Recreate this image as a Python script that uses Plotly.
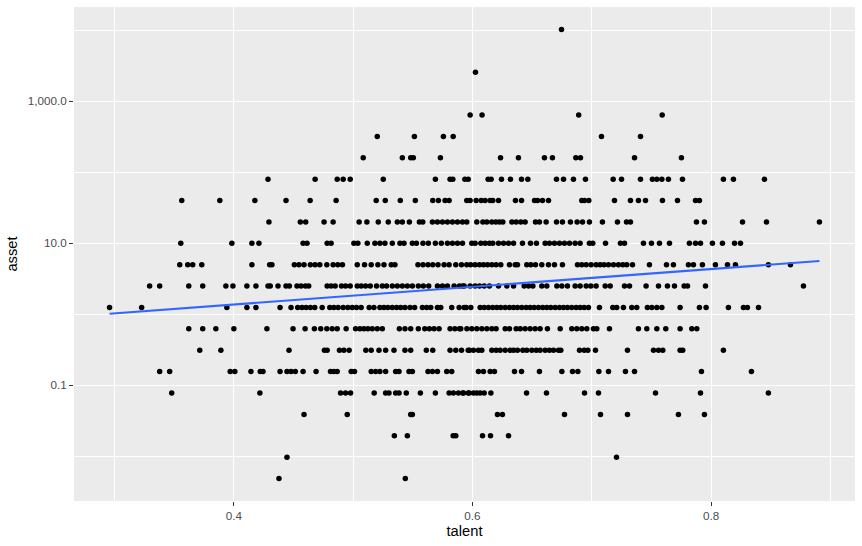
import plotly.graph_objects as go

# asset levels (10 * 2^k) and talent values observed at each level
asset_levels = [10240, 2560, 640, 320, 160, 80, 40, 20, 10, 5, 2.5, 1.25,
                0.625, 0.3125, 0.15625, 0.078125, 0.0390625, 0.01953125,
                0.009765625, 0.0048828125]

talent_10240 = [0.6746]
talent_2560 = [0.6025]
talent_640 = [0.598, 0.608, 0.689, 0.759]
talent_320 = [0.5202, 0.5513, 0.5756, 0.5838, 0.7081, 0.7408]
talent_160 = [0.5084, 0.5412, 0.5482, 0.5504, 0.5731, 0.6235, 0.6385, 0.6603,
              0.667, 0.6866, 0.6905, 0.7358, 0.7751]
talent_80 = [0.4286, 0.4681, 0.4866, 0.4916, 0.4975, 0.5252, 0.5689, 0.5812,
             0.5835, 0.5936, 0.5964, 0.6131, 0.6156, 0.6243, 0.6318, 0.6411,
             0.6464, 0.6704, 0.6763, 0.6846, 0.6947, 0.7179, 0.7249, 0.7408,
             0.7508, 0.7545, 0.7587, 0.7642, 0.776, 0.8103, 0.8187, 0.8447]
talent_40 = [0.3563, 0.3882, 0.4176, 0.4437, 0.4639, 0.4857, 0.5193, 0.5269,
             0.5395, 0.5521, 0.5667, 0.5714, 0.577, 0.5804, 0.5952, 0.598,
             0.6031, 0.6073, 0.6106, 0.6148, 0.617, 0.6218, 0.636, 0.6411,
             0.652, 0.6545, 0.6587, 0.6637, 0.6916, 0.6939, 0.6975, 0.719,
             0.7324, 0.7391, 0.745, 0.7592, 0.7718, 0.7869, 0.7902]
talent_20 = [0.4294, 0.4557, 0.4602, 0.4756, 0.4832, 0.505, 0.5115, 0.521,
             0.5294, 0.537, 0.5412, 0.5471, 0.5555, 0.5583, 0.5664, 0.5706,
             0.5748, 0.579, 0.5832, 0.5874, 0.5916, 0.5952, 0.6036, 0.6087,
             0.612, 0.6162, 0.6196, 0.6226, 0.6254, 0.633, 0.6366, 0.6405,
             0.6441, 0.6528, 0.6561, 0.6617, 0.6704, 0.6754, 0.6821, 0.6877,
             0.6922, 0.698, 0.7089, 0.7215, 0.7291, 0.7324, 0.7877, 0.7944,
             0.8263, 0.8464, 0.8908]
talent_10 = [0.3555, 0.3983, 0.4151, 0.421, 0.458, 0.4613, 0.4782, 0.4815,
             0.5006, 0.5039, 0.5118, 0.5182, 0.5224, 0.5266, 0.5328, 0.5392,
             0.5426, 0.5496, 0.553, 0.5585, 0.563, 0.5689, 0.5739, 0.579,
             0.5832, 0.5874, 0.5916, 0.5994, 0.6022, 0.607, 0.6106, 0.6142,
             0.617, 0.6218, 0.626, 0.6302, 0.6344, 0.6419, 0.6486, 0.6536,
             0.6609, 0.6645, 0.6687, 0.6729, 0.6771, 0.6813, 0.686, 0.6902,
             0.698, 0.7008, 0.7115, 0.724, 0.7274, 0.7433, 0.75, 0.7567,
             0.7651, 0.7818, 0.7869, 0.7911, 0.8011, 0.8095, 0.8196, 0.8246]
talent_5 = [0.3546, 0.3613, 0.3655, 0.3731, 0.4151, 0.43, 0.4319, 0.4507,
            0.4546, 0.4588, 0.4641, 0.4681, 0.472, 0.4779, 0.4832, 0.4871,
            0.491, 0.5034, 0.5095, 0.5151, 0.5207, 0.5258, 0.5319, 0.535,
            0.5543, 0.5585, 0.5627, 0.5667, 0.5711, 0.5762, 0.5804, 0.586,
            0.5908, 0.5952, 0.5985, 0.6022, 0.6059, 0.6092, 0.6126, 0.6162,
            0.6198, 0.6237, 0.631, 0.6358, 0.6377, 0.6455, 0.6489, 0.6528,
            0.6581, 0.6637, 0.6687, 0.6754, 0.688, 0.6916, 0.6953, 0.6994,
            0.7036, 0.707, 0.7103, 0.714, 0.7182, 0.7223, 0.726, 0.7293,
            0.7341, 0.7483, 0.7626, 0.7684, 0.781, 0.7852, 0.7927, 0.8036,
            0.8137, 0.8204, 0.848, 0.8665]
talent_2_5 = [0.3294, 0.3378, 0.3622, 0.3739, 0.3933, 0.3992, 0.4109, 0.4185,
              0.4286, 0.4305, 0.437, 0.4437, 0.4465, 0.4529, 0.4563, 0.46,
              0.4627, 0.4782, 0.4815, 0.4849, 0.4902, 0.4936, 0.4975, 0.5034,
              0.5067, 0.5104, 0.5143, 0.5196, 0.5244, 0.528, 0.5328, 0.537,
              0.5412, 0.5454, 0.5496, 0.5546, 0.5588, 0.5633, 0.5706, 0.5748,
              0.579, 0.5846, 0.5891, 0.593, 0.5919, 0.598, 0.6022, 0.6059,
              0.6098, 0.6142, 0.6218, 0.6288, 0.6344, 0.6433, 0.647, 0.6506,
              0.6581, 0.6623, 0.6707, 0.6749, 0.6796, 0.686, 0.6902, 0.6953,
              0.6992, 0.7036, 0.7112, 0.7154, 0.7274, 0.7316, 0.7455, 0.7559,
              0.7634, 0.7693, 0.7774, 0.7802, 0.7953, 0.8774]
talent_1_25 = [0.2958, 0.3227, 0.3941, 0.4109, 0.4185, 0.4387, 0.4479, 0.4535,
               0.4571, 0.4605, 0.4641, 0.4678, 0.474, 0.4804, 0.4838, 0.4874,
               0.4916, 0.4955, 0.4992, 0.5028, 0.5067, 0.5134, 0.5174, 0.5224,
               0.5258, 0.5291, 0.5328, 0.5364, 0.5398, 0.5434, 0.5476, 0.5515,
               0.558, 0.5616, 0.565, 0.5706, 0.5734, 0.5826, 0.5888, 0.593,
               0.5947, 0.5986, 0.6064, 0.6098, 0.6134, 0.617, 0.6204, 0.6237,
               0.6274, 0.631, 0.6344, 0.6377, 0.6413, 0.645, 0.6483, 0.6517,
               0.6553, 0.6589, 0.6623, 0.6656, 0.6693, 0.6729, 0.6763, 0.6796,
               0.6832, 0.6869, 0.6902, 0.6936, 0.6972, 0.7064, 0.7176, 0.7209,
               0.7265, 0.7335, 0.7377, 0.7466, 0.7503, 0.7545, 0.7587, 0.774,
               0.7902, 0.7958, 0.8145, 0.8271, 0.8304, 0.8397]
talent_0_625 = [0.3622, 0.3739, 0.3849, 0.4, 0.4277, 0.4496, 0.4597, 0.4675,
                0.4728, 0.4779, 0.4824, 0.4866, 0.4941, 0.502, 0.5056, 0.509,
                0.5123, 0.516, 0.5202, 0.5244, 0.5387, 0.5434, 0.5482, 0.5546,
                0.56, 0.5639, 0.5678, 0.572, 0.5812, 0.5852, 0.5891, 0.5902,
                0.5953, 0.5994, 0.6036, 0.6078, 0.612, 0.6162, 0.6198, 0.6274,
                0.631, 0.6366, 0.64, 0.6441, 0.6483, 0.6525, 0.6567, 0.6628,
                0.6735, 0.6832, 0.6874, 0.6916, 0.6958, 0.7014, 0.7042, 0.7148,
                0.7391, 0.7461, 0.7545, 0.762, 0.774, 0.7838, 0.788]
talent_0_3125 = [0.3714, 0.3891, 0.4462, 0.4759, 0.4782, 0.4885, 0.4922, 0.4966,
                 0.5106, 0.5151, 0.5216, 0.5272, 0.5342, 0.5434, 0.5482, 0.5613,
                 0.5667, 0.5812, 0.586, 0.5908, 0.5964, 0.5975, 0.6008, 0.605,
                 0.6078, 0.6162, 0.6198, 0.6232, 0.6274, 0.6316, 0.6344, 0.6377,
                 0.6422, 0.6455, 0.6497, 0.6534, 0.6567, 0.6609, 0.6645, 0.6679,
                 0.6721, 0.674, 0.6897, 0.6936, 0.6967, 0.7031, 0.7299, 0.7517,
                 0.7559, 0.7595, 0.774, 0.7762, 0.8103]
talent_0_156 = [0.3378, 0.3462, 0.3969, 0.4008, 0.4143, 0.4221, 0.4244, 0.4387,
                0.4445, 0.4479, 0.4515, 0.458, 0.4689, 0.481, 0.4838, 0.4866,
                0.4983, 0.5011, 0.5151, 0.5188, 0.5224, 0.5272, 0.5356, 0.5384,
                0.5468, 0.5496, 0.5627, 0.5664, 0.5706, 0.5784, 0.5826, 0.605,
                0.6092, 0.6148, 0.6184, 0.6352, 0.6411, 0.6561, 0.6749, 0.6838,
                0.6883, 0.7059, 0.714, 0.7282, 0.7358, 0.7919, 0.8338]
talent_0_078 = [0.3479, 0.4218, 0.4894, 0.4936, 0.4978, 0.5176, 0.5272, 0.53,
                0.5356, 0.5384, 0.5445, 0.5563, 0.5689, 0.5804, 0.584, 0.5882,
                0.5924, 0.5964, 0.5919, 0.5972, 0.6008, 0.6036, 0.6064, 0.6098,
                0.6154, 0.6453, 0.662, 0.6939, 0.7056, 0.7534, 0.7911, 0.848]
talent_0_039 = [0.4588, 0.495, 0.5482, 0.5496, 0.6209, 0.6251, 0.6771, 0.7073,
                0.7299, 0.7726, 0.7944]
talent_0_0195 = [0.5345, 0.5454, 0.5838, 0.586, 0.6084, 0.6151, 0.6302]
talent_0_0098 = [0.4445, 0.7207]
talent_0_0049 = [0.4378, 0.5437]

talent_by_level = [talent_10240, talent_2560, talent_640, talent_320, talent_160,
                   talent_80, talent_40, talent_20, talent_10, talent_5,
                   talent_2_5, talent_1_25, talent_0_625, talent_0_3125,
                   talent_0_156, talent_0_078, talent_0_039, talent_0_0195,
                   talent_0_0098, talent_0_0049]

# fitted lm line (log scale) endpoints
fit_talent = [0.2958, 0.8908]
fit_asset = [1.02, 5.63]

x_tick_vals = [0.4, 0.6, 0.8]
x_tick_text = ["0.4", "0.6", "0.8"]
x_minor_vals = [0.3, 0.5, 0.7, 0.9]
y_tick_vals = [0.1, 10, 1000]
y_tick_text = ["0.1", "10.0", "1,000.0"]
y_minor_vals = [0.01, 1, 100, 10000]

xs, ys = [], []
for lvl, tl in zip(asset_levels, talent_by_level):
    xs.extend(tl)
    ys.extend([lvl] * len(tl))

fig = go.Figure()
fig.add_trace(go.Scatter(x=xs, y=ys, mode="markers",
                         marker=dict(color="black", size=5.5, line=dict(width=0)),
                         showlegend=False, hoverinfo="skip"))
fig.add_trace(go.Scatter(x=fit_talent, y=fit_asset, mode="lines",
                         line=dict(color="#3366FF", width=2.1),
                         showlegend=False, hoverinfo="skip"))

font_family = "Liberation Sans, Arial, sans-serif"
fig.update_layout(
    width=862, height=546,
    margin=dict(l=74, r=7, t=7, b=45, autoexpand=False),
    paper_bgcolor="white", plot_bgcolor="#EBEBEB",
    font=dict(family=font_family, color="black"),
    xaxis=dict(
        range=[0.266, 0.9206], tickvals=x_tick_vals, ticktext=x_tick_text,
        automargin=False,
        showgrid=True, gridcolor="white", gridwidth=1.3, zeroline=False,
        showline=False, ticks="outside", ticklen=4, tickcolor="#333333",
        tickwidth=1.1, tickfont=dict(size=11.7, color="#4D4D4D"),
        title=dict(text="talent", font=dict(size=14.7, color="black"), standoff=4),
        minor=dict(tickvals=x_minor_vals, showgrid=True, gridcolor="white",
                   gridwidth=0.7, ticks=""),
    ),
    yaxis=dict(
        type="log", range=[-2.6274, 4.3264], tickvals=y_tick_vals,
        ticktext=y_tick_text, automargin=False,
        showgrid=True, gridcolor="white", gridwidth=1.3, zeroline=False,
        showline=False, ticks="outside", ticklen=4, tickcolor="#333333",
        tickwidth=1.1, tickfont=dict(size=11.7, color="#4D4D4D"),
        title=dict(text="asset", font=dict(size=14.7, color="black"), standoff=6),
        minor=dict(tickvals=y_minor_vals, showgrid=True, gridcolor="white",
                   gridwidth=0.7, ticks=""),
    ),
)

fig.write_html("out.html", config={"displayModeBar": False},
               post_script="document.body.style.margin='0';document.body.style.padding='0';")
